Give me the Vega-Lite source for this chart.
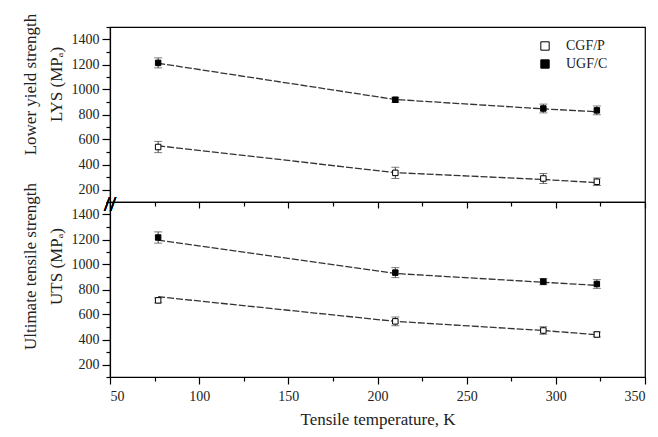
{
  "$schema": "https://vega.github.io/schema/vega-lite/v6.json",
  "autosize": {"type": "pad"},
  "padding": {"left": 20, "top": 12, "right": 5, "bottom": 5},
  "background": "white",
  "spacing": 0,
  "bounds": "flush",
  "config": {
    "font": "Liberation Serif",
    "view": {"stroke": "black", "strokeWidth": 1.2},
    "axis": {
      "grid": false,
      "domainColor": "black",
      "domainWidth": 1.2,
      "tickColor": "black",
      "tickWidth": 1.2,
      "labelFont": "Liberation Serif",
      "labelFontSize": 14,
      "labelColor": "#222",
      "titleFont": "Liberation Serif",
      "titleFontSize": 17,
      "titleFontWeight": "normal",
      "titleColor": "#222"
    },
    "legend": {"labelFont": "Liberation Serif", "labelFontSize": 14, "labelColor": "#222"}
  },
  "resolve": {"scale": {"fill": "independent"}, "legend": {"fill": "independent"}},
  "datasets": {
    "d": [
      {"panel": "LYS", "material": "UGF/C", "T": 77, "value": 1213, "err": 40, "fit": 1210},
      {"panel": "LYS", "material": "UGF/C", "T": 210, "value": 918, "err": 20, "fit": 920},
      {"panel": "LYS", "material": "UGF/C", "T": 293, "value": 848, "err": 35, "fit": 845},
      {"panel": "LYS", "material": "UGF/C", "T": 323, "value": 833, "err": 35, "fit": 822},
      {"panel": "LYS", "material": "CGF/P", "T": 77, "value": 540, "err": 45, "fit": 550},
      {"panel": "LYS", "material": "CGF/P", "T": 210, "value": 333, "err": 45, "fit": 335},
      {"panel": "LYS", "material": "CGF/P", "T": 293, "value": 288, "err": 40, "fit": 280},
      {"panel": "LYS", "material": "CGF/P", "T": 323, "value": 262, "err": 30, "fit": 255},
      {"panel": "UTS", "material": "UGF/C", "T": 77, "value": 1216, "err": 45, "fit": 1195},
      {"panel": "UTS", "material": "UGF/C", "T": 210, "value": 935, "err": 40, "fit": 928},
      {"panel": "UTS", "material": "UGF/C", "T": 293, "value": 863, "err": 25, "fit": 858},
      {"panel": "UTS", "material": "UGF/C", "T": 323, "value": 844, "err": 35, "fit": 833},
      {"panel": "UTS", "material": "CGF/P", "T": 77, "value": 713, "err": 20, "fit": 742},
      {"panel": "UTS", "material": "CGF/P", "T": 210, "value": 545, "err": 35, "fit": 545},
      {"panel": "UTS", "material": "CGF/P", "T": 293, "value": 472, "err": 30, "fit": 472},
      {"panel": "UTS", "material": "CGF/P", "T": 323, "value": 440, "err": 20, "fit": 438}
    ]
  },
  "vconcat": [
    {
      "width": 535,
      "height": 175,
      "data": {"name": "d"},
      "transform": [{"filter": "datum.panel === 'LYS'"}],
      "encoding": {
        "x": {
          "field": "T", "type": "quantitative",
          "scale": {"domain": [50, 350], "nice": false},
          "axis": {
            "values": [50, 75, 100, 125, 150, 175, 200, 225, 250, 275, 300, 325, 350],
            "labels": false, "title": null,
            "tickSize": {"condition": {"test": "datum.value % 50 === 0", "value": 6}, "value": 4}
          }
        }
      },
      "layer": [
        {
          "mark": {"type": "line", "color": "#333", "strokeWidth": 1.3, "strokeDash": [7, 2]},
          "encoding": {
            "y": {
              "field": "fit", "type": "quantitative", "scale": {"domain": [100, 1500], "nice": false},
              "axis": {
                "values": [100, 200, 300, 400, 500, 600, 700, 800, 900, 1000, 1100, 1200, 1300, 1400, 1500],
                "labelExpr": "datum.value % 200 === 0 ? datum.label : ''",
                "format": "d",
                "tickSize": {"condition": {"test": "datum.value % 200 === 0", "value": 8}, "value": 4},
                "labelPadding": 3,
                "title": ["Lower yield strength", "LYS (MPₐ)"],
                "titleLineHeight": 26,
                "titlePadding": 6,
                "titleY": 57
              }
            },
            "detail": {"field": "material"}
          }
        },
        {
          "mark": {"type": "errorbar", "ticks": {"size": 8, "color": "#444"}, "rule": {"color": "#444"}},
          "encoding": {
            "y": {
              "field": "value", "type": "quantitative",
              "axis": {
                "values": [100, 200, 300, 400, 500, 600, 700, 800, 900, 1000, 1100, 1200, 1300, 1400, 1500],
                "labelExpr": "datum.value % 200 === 0 ? datum.label : ''",
                "format": "d",
                "tickSize": {"condition": {"test": "datum.value % 200 === 0", "value": 8}, "value": 4},
                "labelPadding": 3,
                "title": ["Lower yield strength", "LYS (MPₐ)"],
                "titleLineHeight": 26,
                "titlePadding": 6,
                "titleY": 57
              }
            },
            "yError": {"field": "err"}
          }
        },
        {
          "mark": {"type": "point", "shape": "square", "size": 30, "filled": true, "stroke": "black", "strokeWidth": 1, "opacity": 1},
          "encoding": {
            "y": {
              "field": "value", "type": "quantitative",
              "axis": {
                "values": [100, 200, 300, 400, 500, 600, 700, 800, 900, 1000, 1100, 1200, 1300, 1400, 1500],
                "labelExpr": "datum.value % 200 === 0 ? datum.label : ''",
                "format": "d",
                "tickSize": {"condition": {"test": "datum.value % 200 === 0", "value": 8}, "value": 4},
                "labelPadding": 3,
                "title": ["Lower yield strength", "LYS (MPₐ)"],
                "titleLineHeight": 26,
                "titlePadding": 6,
                "titleY": 57
              }
            },
            "fill": {
              "field": "material", "type": "nominal",
              "scale": {"domain": ["CGF/P", "UGF/C"], "range": ["white", "black"]},
              "legend": {
                "orient": "none", "legendX": 428, "legendY": 12, "title": null,
                "symbolType": "square", "symbolSize": 70, "symbolStrokeColor": "black", "symbolStrokeWidth": 1,
                "rowPadding": 4, "labelOffset": 14
              }
            }
          }
        },
        {
          "mark": {"type": "text", "text": "//", "fontSize": 22, "font": "Liberation Serif", "color": "black", "clip": false, "dx": 0, "dy": 2},
          "encoding": {
            "x": {"datum": 50},
            "y": {
              "datum": 100, "type": "quantitative",
              "axis": {
                "values": [100, 200, 300, 400, 500, 600, 700, 800, 900, 1000, 1100, 1200, 1300, 1400, 1500],
                "labelExpr": "datum.value % 200 === 0 ? datum.label : ''",
                "format": "d",
                "tickSize": {"condition": {"test": "datum.value % 200 === 0", "value": 8}, "value": 4},
                "labelPadding": 3,
                "title": ["Lower yield strength", "LYS (MPₐ)"],
                "titleLineHeight": 26,
                "titlePadding": 6,
                "titleY": 57
              }
            }
          }
        }
      ]
    },
    {
      "width": 535,
      "height": 175,
      "data": {"name": "d"},
      "transform": [{"filter": "datum.panel === 'UTS'"}],
      "encoding": {
        "x": {
          "field": "T", "type": "quantitative",
          "scale": {"domain": [50, 350], "nice": false},
          "axis": {
            "values": [50, 75, 100, 125, 150, 175, 200, 225, 250, 275, 300, 325, 350],
            "labelExpr": "datum.value % 50 === 0 ? datum.label : ''",
            "tickSize": {"condition": {"test": "datum.value % 50 === 0", "value": 7}, "value": 4},
            "labelPadding": 5,
            "title": "Tensile temperature, K",
            "titlePadding": 8
          }
        }
      },
      "layer": [
        {
          "mark": {"type": "line", "color": "#333", "strokeWidth": 1.3, "strokeDash": [7, 2]},
          "encoding": {
            "y": {
              "field": "fit", "type": "quantitative", "scale": {"domain": [100, 1500], "nice": false},
              "axis": {
                "values": [100, 200, 300, 400, 500, 600, 700, 800, 900, 1000, 1100, 1200, 1300, 1400, 1500],
                "labelExpr": "datum.value % 200 === 0 ? datum.label : ''",
                "format": "d",
                "tickSize": {"condition": {"test": "datum.value % 200 === 0", "value": 8}, "value": 4},
                "labelPadding": 3,
                "title": ["Ultimate tensile strength", "UTS (MPₐ)"],
                "titleLineHeight": 26,
                "titlePadding": 6,
                "titleY": 64
              }
            },
            "detail": {"field": "material"}
          }
        },
        {
          "mark": {"type": "errorbar", "ticks": {"size": 8, "color": "#444"}, "rule": {"color": "#444"}},
          "encoding": {
            "y": {
              "field": "value", "type": "quantitative",
              "axis": {
                "values": [100, 200, 300, 400, 500, 600, 700, 800, 900, 1000, 1100, 1200, 1300, 1400, 1500],
                "labelExpr": "datum.value % 200 === 0 ? datum.label : ''",
                "format": "d",
                "tickSize": {"condition": {"test": "datum.value % 200 === 0", "value": 8}, "value": 4},
                "labelPadding": 3,
                "title": ["Ultimate tensile strength", "UTS (MPₐ)"],
                "titleLineHeight": 26,
                "titlePadding": 6,
                "titleY": 64
              }
            },
            "yError": {"field": "err"}
          }
        },
        {
          "mark": {"type": "point", "shape": "square", "size": 30, "filled": true, "stroke": "black", "strokeWidth": 1, "opacity": 1},
          "encoding": {
            "y": {
              "field": "value", "type": "quantitative",
              "axis": {
                "values": [100, 200, 300, 400, 500, 600, 700, 800, 900, 1000, 1100, 1200, 1300, 1400, 1500],
                "labelExpr": "datum.value % 200 === 0 ? datum.label : ''",
                "format": "d",
                "tickSize": {"condition": {"test": "datum.value % 200 === 0", "value": 8}, "value": 4},
                "labelPadding": 3,
                "title": ["Ultimate tensile strength", "UTS (MPₐ)"],
                "titleLineHeight": 26,
                "titlePadding": 6,
                "titleY": 64
              }
            },
            "fill": {
              "field": "material", "type": "nominal",
              "scale": {"domain": ["CGF/P", "UGF/C"], "range": ["white", "black"]},
              "legend": null
            }
          }
        }
      ]
    }
  ]
}
